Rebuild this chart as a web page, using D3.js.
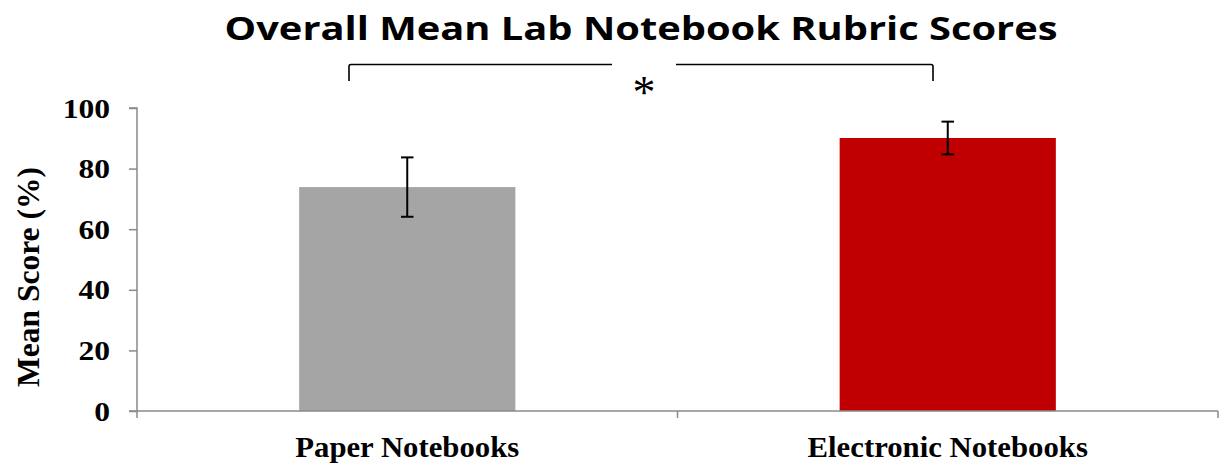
<!DOCTYPE html>
<html><head><meta charset="utf-8">
<script src="https://cdn.jsdelivr.net/npm/d3@7"></script>
<style>html,body{margin:0;padding:0;background:#fff;}svg{display:block;}</style>
</head><body>
<script>
const categories = ["Paper Notebooks", "Electronic Notebooks"];
const means = [73.9, 90.1];
const errors = [9.8, 5.4];
const barColors = ["#a5a5a5", "#c00000"];
const yTicks = [0, 20, 40, 60, 80, 100];
const titleText = "Overall Mean Lab Notebook Rubric Scores";
const yTitle = "Mean Score (%)";
const sigMark = "*";

const W = 1221, H = 465;
const m = {left: 137, right: 3, top: 108, bottom: 54};
const svg = d3.select("body").append("svg").attr("width", W).attr("height", H);

const x = d3.scaleBand().domain(categories).range([m.left, W - m.right]).padding(0);
const y = d3.scaleLinear().domain([0, 100]).range([H - m.bottom, m.top]);
const barW = x.bandwidth() * 0.4;
const axisColor = "#8a8a8a";

// bars
svg.selectAll("rect.bar").data(categories).join("rect")
  .attr("x", d => x(d) + x.bandwidth() / 2 - barW / 2)
  .attr("y", (d, i) => y(means[i]))
  .attr("width", barW)
  .attr("height", (d, i) => y(0) - y(means[i]))
  .attr("fill", (d, i) => barColors[i]);

// y axis
const yAxis = svg.append("g").attr("transform", `translate(${m.left},0)`)
  .call(d3.axisLeft(y).tickValues(yTicks).tickSize(8).tickFormat(d3.format("d")));
yAxis.select(".domain").attr("stroke", axisColor).attr("stroke-width", 1.5).attr("d", `M-8,${y(100)}H0V${y(0)}`);
yAxis.selectAll(".tick line").attr("stroke", axisColor).attr("stroke-width", 1.5);
yAxis.selectAll(".tick text")
  .attr("font-family", "Liberation Serif").attr("font-weight", "bold").attr("font-size", 27)
  .attr("fill", "#000").attr("x", -27).attr("dy", "0.34em")
  .each(function () { const l = this.getComputedTextLength(); d3.select(this).attr("textLength", l * 1.17).attr("lengthAdjust", "spacingAndGlyphs"); });

// x axis
const xAxis = svg.append("g").attr("transform", `translate(0,${y(0)})`)
  .call(d3.axisBottom(x).tickSize(0).tickFormat(""));
xAxis.select(".domain").attr("stroke", axisColor).attr("stroke-width", 1.5).attr("d", `M${m.left - 8},0H${W - m.right}`);
const xBounds = [m.left, ...categories.map(c => x(c) + x.bandwidth())];
svg.selectAll("line.xt").data(xBounds).join("line")
  .attr("x1", d => d).attr("x2", d => d)
  .attr("y1", y(0)).attr("y2", y(0) + 7)
  .attr("stroke", axisColor).attr("stroke-width", 1.5);

// x labels
svg.selectAll("text.xl").data(categories).join("text")
  .attr("x", d => x(d) + x.bandwidth() / 2).attr("y", 457)
  .attr("text-anchor", "middle")
  .attr("font-family", "Liberation Serif").attr("font-weight", "bold").attr("font-size", 29)
  .text(d => d)
  .each(function () { const l = this.getComputedTextLength(); d3.select(this).attr("textLength", l * 1.06).attr("lengthAdjust", "spacingAndGlyphs"); });

// error bars
const capW = 12.5;
categories.forEach((c, i) => {
  const cx = x(c) + x.bandwidth() / 2;
  const g = svg.append("g").attr("stroke", "#000").attr("stroke-width", 2);
  g.append("line").attr("x1", cx).attr("x2", cx).attr("y1", y(means[i] + errors[i])).attr("y2", y(means[i] - errors[i]));
  g.append("line").attr("x1", cx - capW / 2).attr("x2", cx + capW / 2).attr("y1", y(means[i] + errors[i])).attr("y2", y(means[i] + errors[i]));
  g.append("line").attr("x1", cx - capW / 2).attr("x2", cx + capW / 2).attr("y1", y(means[i] - errors[i])).attr("y2", y(means[i] - errors[i]));
});

// significance bracket
const bx1 = 349, bx2 = 933, byTop = 64.5, byBot = 81, gap1 = 612, gap2 = 676;
const br = svg.append("g").attr("fill", "none").attr("stroke", "#000").attr("stroke-width", 1.6);
br.append("path").attr("d", `M${bx1},${byBot}V${byTop + 2}Q${bx1},${byTop} ${bx1 + 2},${byTop}H${gap1}`);
br.append("path").attr("d", `M${gap2},${byTop}H${bx2 - 2}Q${bx2},${byTop} ${bx2},${byTop + 2}V${byBot}`);
svg.append("text").attr("x", (gap1 + gap2) / 2).attr("y", 108)
  .attr("text-anchor", "middle").attr("font-family", "Liberation Serif").attr("font-size", 46)
  .text(sigMark);

// title
svg.append("text").attr("x", 641).attr("y", 40).attr("text-anchor", "middle")
  .attr("font-family", "Open Sans").attr("font-weight", "bold").attr("font-size", 33)
  .attr("textLength", 833).attr("lengthAdjust", "spacingAndGlyphs")
  .text(titleText);

// y title
svg.append("text").attr("transform", `translate(39,277) rotate(-90)`)
  .attr("text-anchor", "middle")
  .attr("font-family", "Liberation Serif").attr("font-weight", "bold").attr("font-size", 31)
  .attr("textLength", 220).attr("lengthAdjust", "spacingAndGlyphs")
  .text(yTitle);
</script>
</body></html>
